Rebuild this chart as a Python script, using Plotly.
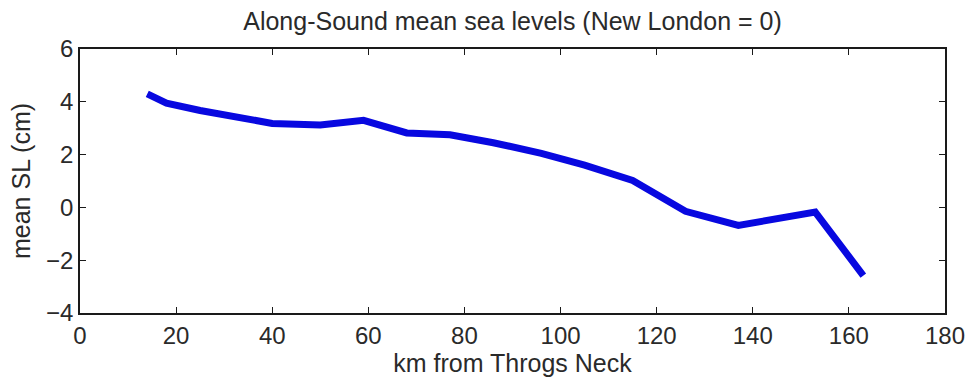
import plotly.graph_objects as go

km = [14, 18, 25, 31, 40, 50, 59, 68, 77, 86, 96, 105, 115, 126, 137, 153, 163]
mean_sl = [4.3, 3.95, 3.67, 3.5, 3.18, 3.12, 3.3, 2.82, 2.75, 2.45, 2.05, 1.6, 1.02, -0.15, -0.68, -0.18, -2.58]

x_ticks = [0, 20, 40, 60, 80, 100, 120, 140, 160, 180]
y_ticks = [-4, -2, 0, 2, 4, 6]

FONT = "Liberation Sans, Arial, sans-serif"
TXT = "#2a2a2a"

fig = go.Figure()
fig.add_trace(go.Scatter(x=km, y=mean_sl, mode="lines",
                         line=dict(color="#0808e0", width=7), showlegend=False))

axis_common = dict(showgrid=False, zeroline=False, showline=True, linecolor="#1a1a1a",
                   linewidth=1.5, mirror="ticks", ticks="inside", ticklen=6,
                   tickcolor="#1a1a1a", tickwidth=1.2, automargin=False,
                   tickfont=dict(family=FONT, size=24, color=TXT))

fig.update_layout(
    width=971, height=381,
    margin=dict(l=80, r=26, t=49, b=68),
    paper_bgcolor="white", plot_bgcolor="white",
    title=dict(text="Along-Sound mean sea levels (New London = 0)",
               font=dict(family=FONT, size=25, color=TXT),
               x=0.5, xref="paper", xanchor="center", y=0.945, yanchor="middle"),
    xaxis=dict(range=[0, 180], tickvals=x_ticks,
               title=dict(text="km from Throgs Neck", font=dict(family=FONT, size=25, color=TXT), standoff=7),
               **axis_common),
    yaxis=dict(range=[-4, 6], tickvals=y_ticks,
               title=dict(text="mean SL (cm)", font=dict(family=FONT, size=25, color=TXT), standoff=8),
               **axis_common),
)

fig.write_html("out.html")
